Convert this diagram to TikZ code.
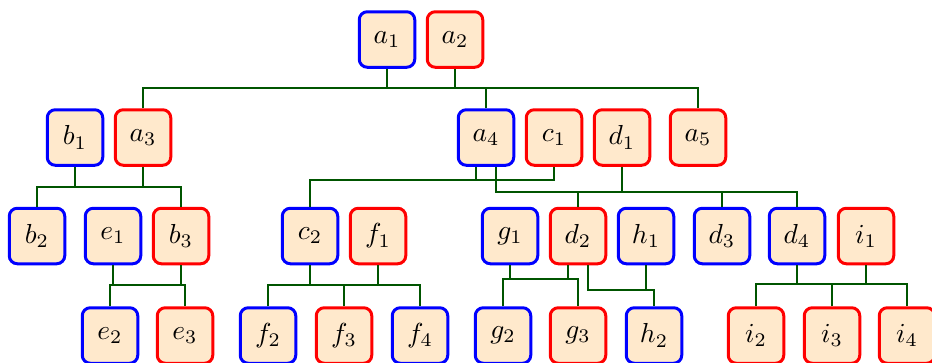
\documentclass[tikz,border=0pt]{standalone}
\usepackage{graphicx}
\usepackage{tikz}
\definecolor{boxfill}{RGB}{255,233,204}
\definecolor{conncol}{RGB}{0,85,0}
\newcommand\boxlbl[1]{\scalebox{2.75}{$#1$}}
\tikzset{
  treebox/.style={draw, line width=3pt, rounded corners=8pt, fill=boxfill,
    minimum width=55.5pt, minimum height=55.5pt, inner sep=0pt},
  bluebox/.style={treebox, draw=blue},
  redbox/.style={treebox, draw=red},
  conn/.style={draw=conncol, line width=2pt}
}
\begin{document}
\begin{tikzpicture}[x=1pt, y=-1pt]
\useasboundingbox (0,0) rectangle (932,362);
% row 0
\node[bluebox] (a1) at (387,39.5) {\boxlbl{a_1}};
\node[redbox]  (a2) at (455,39.5) {\boxlbl{a_2}};
% row 1
\node[bluebox] (b1) at (75,137.5) {\boxlbl{b_1}};
\node[redbox]  (a3) at (143,137.5) {\boxlbl{a_3}};
\node[bluebox] (a4) at (486,137.5) {\boxlbl{a_4}};
\node[redbox]  (c1) at (554,137.5) {\boxlbl{c_1}};
\node[redbox]  (d1) at (622,137.5) {\boxlbl{d_1}};
\node[redbox]  (a5) at (698,137.5) {\boxlbl{a_5}};
% row 2
\node[bluebox] (b2) at (37,236) {\boxlbl{b_2}};
\node[bluebox] (e1) at (113,236) {\boxlbl{e_1}};
\node[redbox]  (b3) at (181,236) {\boxlbl{b_3}};
\node[bluebox] (c2) at (310,236) {\boxlbl{c_2}};
\node[redbox]  (f1) at (378,236) {\boxlbl{f_1}};
\node[bluebox] (g1) at (510,236) {\boxlbl{g_1}};
\node[redbox]  (d2) at (578,236) {\boxlbl{d_2}};
\node[bluebox] (h1) at (646,236) {\boxlbl{h_1}};
\node[bluebox] (d3) at (722,236) {\boxlbl{d_3}};
\node[bluebox] (d4) at (797,236) {\boxlbl{d_4}};
\node[redbox]  (i1) at (866,236) {\boxlbl{i_1}};
% row 3
\node[bluebox] (e2) at (110,335.5) {\boxlbl{e_2}};
\node[redbox]  (e3) at (185,335.5) {\boxlbl{e_3}};
\node[bluebox] (f2) at (268,335.5) {\boxlbl{f_2}};
\node[redbox]  (f3) at (344,335.5) {\boxlbl{f_3}};
\node[bluebox] (f4) at (420,335.5) {\boxlbl{f_4}};
\node[bluebox] (g2) at (503,335.5) {\boxlbl{g_2}};
\node[redbox]  (g3) at (578,335.5) {\boxlbl{g_3}};
\node[bluebox] (h2) at (654,335.5) {\boxlbl{h_2}};
\node[redbox]  (i2) at (756,335.5) {\boxlbl{i_2}};
\node[redbox]  (i3) at (832,335.5) {\boxlbl{i_3}};
\node[redbox]  (i4) at (907,335.5) {\boxlbl{i_4}};
% ports
\coordinate (a4l) at ([xshift=-10pt]a4.south);
\coordinate (a4r) at ([xshift=10pt]a4.south);
\coordinate (d2l) at ([xshift=-10pt]d2.south);
\coordinate (d2r) at ([xshift=10pt]d2.south);
% connectors
\draw[conn] (a3.north) |- (a5.north |- 0,88) -- (a5.north);
\draw[conn] (a1.south) -- (a1.south |- 0,88);
\draw[conn] (a2.south) -- (a2.south |- 0,88);
\draw[conn] (a4.north) -- (a4.north |- 0,88);

\draw[conn] (b2.north) |- (b3.north |- 0,187) -- (b3.north);
\draw[conn] (b1.south) -- (b1.south |- 0,187);
\draw[conn] (a3.south) -- (a3.south |- 0,187);

\draw[conn] (c2.north) |- (c1.south |- 0,180) -- (c1.south);
\draw[conn] (a4l) -- (a4l |- 0,180);

\draw[conn] (a4r) |- (d4.north |- 0,192) -- (d4.north);
\draw[conn] (d1.south) -- (d1.south |- 0,192);
\draw[conn] (d2.north) -- (d2.north |- 0,192);
\draw[conn] (d3.north) -- (d3.north |- 0,192);

\draw[conn] (e2.north) |- (e3.north |- 0,285) -- (e3.north);
\draw[conn] (e1.south) -- (e1.south |- 0,285);
\draw[conn] (b3.south) -- (b3.south |- 0,285);

\draw[conn] (f2.north) |- (f4.north |- 0,285) -- (f4.north);
\draw[conn] (c2.south) -- (c2.south |- 0,285);
\draw[conn] (f1.south) -- (f1.south |- 0,285);
\draw[conn] (f3.north) -- (f3.north |- 0,285);

\draw[conn] (g2.north) |- (g3.north |- 0,279) -- (g3.north);
\draw[conn] (g1.south) -- (g1.south |- 0,279);
\draw[conn] (d2l) -- (d2l |- 0,279);

\draw[conn] (d2r) |- (h2.north |- 0,290) -- (h2.north);
\draw[conn] (h1.south) -- (h1.south |- 0,290);

\draw[conn] (i2.north) |- (i4.north |- 0,284) -- (i4.north);
\draw[conn] (d4.south) -- (d4.south |- 0,284);
\draw[conn] (i1.south) -- (i1.south |- 0,284);
\draw[conn] (i3.north) -- (i3.north |- 0,284);
\end{tikzpicture}
\end{document}
